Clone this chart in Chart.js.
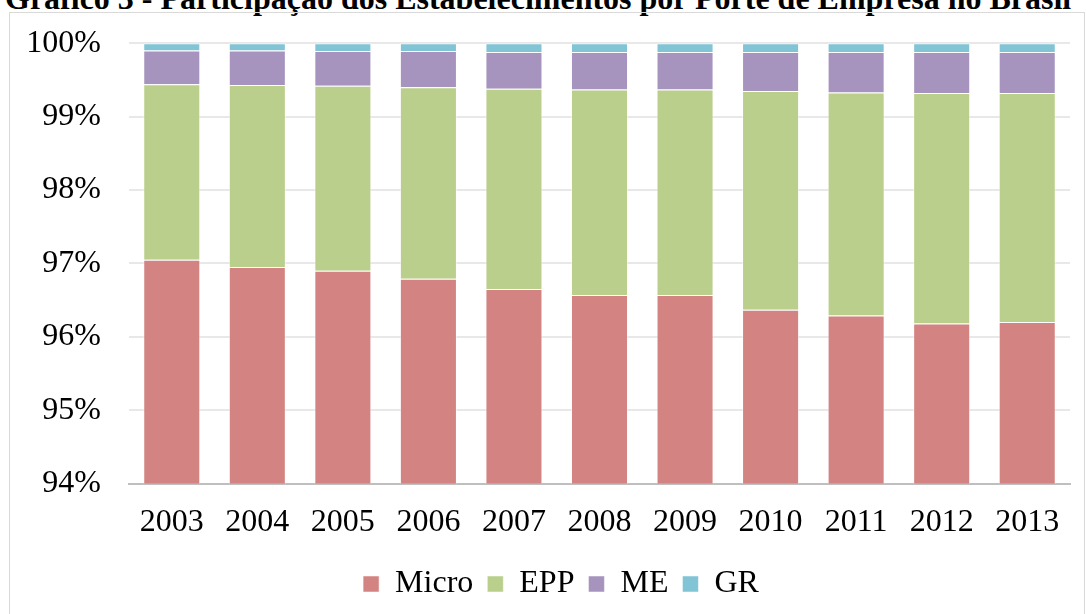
<!DOCTYPE html>
<html>
<head>
<meta charset="utf-8">
<script src="https://cdn.jsdelivr.net/npm/chart.js@4/dist/chart.umd.min.js"></script>
<style>
    body { margin: 0; background: #fff; overflow: hidden; }
    #title {
        position: absolute; left: 5px; top: -18px; width: 1086px;
        font: bold 32px "Liberation Serif", serif; line-height: 1; white-space: nowrap; color: #000;
    }
    #box {
        position: absolute; left: 9px; top: 12px; width: 1074px; height: 620px;
        border: 1px solid #D9D9D9;
    }
    #barChart { position: absolute; left: 0; top: -4px; }
</style>
</head>
<body>
<div id="title">Gráfico 3 - Participação dos Estabelecimentos por Porte de Empresa no Brasil</div>
<div id="box"></div>
<canvas id="barChart" width="1086" height="618"></canvas>
<script>
    "use strict";

    var years = ["2003", "2004", "2005", "2006", "2007", "2008", "2009", "2010", "2011", "2012", "2013"];
    // share of establishments, in percent
    var micro = [97.05, 96.95, 96.90, 96.79, 96.65, 96.57, 96.57, 96.37, 96.29, 96.18, 96.20];
    var epp = [2.39, 2.48, 2.52, 2.61, 2.73, 2.80, 2.80, 2.98, 3.04, 3.14, 3.12];
    var me = [0.46, 0.47, 0.475, 0.495, 0.50, 0.51, 0.51, 0.53, 0.55, 0.56, 0.56];
    var gr = [0.10, 0.10, 0.105, 0.105, 0.12, 0.12, 0.12, 0.12, 0.12, 0.12, 0.12];
    var yTicks = [94, 95, 96, 97, 98, 99, 100];

    var serif = "'Liberation Serif', 'Times New Roman', serif";

    function MakeSet(label, data, color) {
        return {
            label: label,
            data: data,
            backgroundColor: color,
            borderColor: "rgba(255,255,255,0.5)",
            borderWidth: 1,
            barPercentage: 0.667,
            categoryPercentage: 1
        };
    }

    // legend sits a bit right of the canvas centre in the original
    var legendShift = {
        id: "legendShift",
        beforeDraw: function (chart) {
            chart.legend.left = 26;
            chart.legend.right = chart.width - 16 + 26;
        }
    };

    var ctx = document.getElementById("barChart");
    var myChart = new Chart(ctx, {
        type: "bar",
        data: {
            labels: years,
            datasets: [
                MakeSet("Micro", micro, "#D38482"),
                MakeSet("EPP", epp, "#B9CF8B"),
                MakeSet("ME", me, "#A694BE"),
                MakeSet("GR", gr, "#81C4D5")
            ]
        },
        options: {
            responsive: false,
            animation: false,
            layout: { padding: { top: 6, right: 16, bottom: 4, left: 0 } },
            plugins: {
                tooltip: { enabled: false },
                legend: {
                    position: "bottom",
                    labels: {
                        font: { family: serif, size: 32 },
                        color: "#000",
                        boxWidth: 16,
                        boxHeight: 16,
                        padding: 14
                    }
                }
            },
            scales: {
                x: {
                    stacked: true,
                    grid: { display: false },
                    border: { color: "#BFBFBF", width: 2 },
                    ticks: { font: { family: serif, size: 32 }, color: "#000", padding: 12 }
                },
                y: {
                    stacked: true,
                    min: 94,
                    max: 100,
                    afterBuildTicks: function (scale) {
                        scale.ticks = yTicks.map(function (v) { return { value: v }; });
                    },
                    afterFit: function (scale) { scale.width = 129; },
                    grid: { color: "#E8E8E8", lineWidth: 2, drawTicks: false },
                    border: { display: false },
                    ticks: {
                        font: { family: serif, size: 32 },
                        color: "#000",
                        padding: 28,
                        callback: function (v) { return v + "%"; }
                    }
                }
            }
        },
        plugins: [legendShift]
    });
</script>
</body>
</html>
